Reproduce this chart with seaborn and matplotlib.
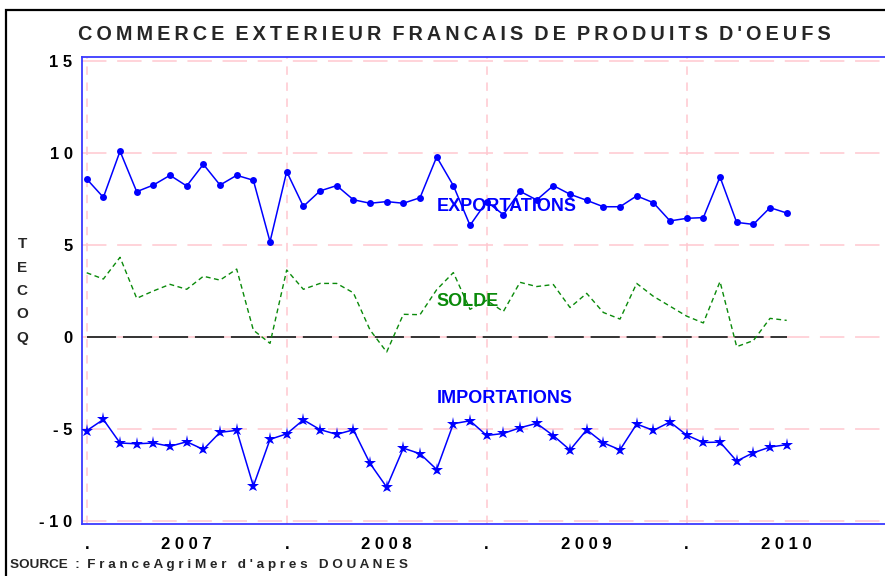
import numpy as np
import pandas as pd
import matplotlib
matplotlib.use("Agg")
import matplotlib.pyplot as plt
import seaborn as sns
from matplotlib.patches import Rectangle
from matplotlib.ticker import MultipleLocator

###-------DATA------###
# one value per month, Jan 2007 -> Jul 2010 (thousand tonnes, TEC)
months = list(range(43))
exports = [8.58, 7.58, 10.09, 7.89, 8.25, 8.78, 8.20, 9.38, 8.25, 8.78, 8.51, 5.17,
           8.98, 7.09, 7.93, 8.22, 7.45, 7.26, 7.35, 7.26, 7.56, 9.78, 8.22, 6.06,
           7.35, 6.64, 7.91, 7.44, 8.22, 7.75, 7.42, 7.07, 7.07, 7.66, 7.29, 6.30,
           6.44, 6.48, 8.69, 6.22, 6.11, 7.02, 6.73]
imports = [-5.11, -4.50, -5.78, -5.82, -5.78, -5.96, -5.71, -6.13, -5.20, -5.09, -8.12, -5.58,
           -5.28, -4.52, -5.05, -5.31, -5.06, -6.89, -8.18, -6.06, -6.36, -7.22, -4.73, -4.57,
           -5.37, -5.26, -4.95, -4.71, -5.38, -6.16, -5.06, -5.77, -6.15, -4.75, -5.09, -4.64,
           -5.35, -5.75, -5.73, -6.76, -6.31, -6.00, -5.87]
solde = [3.48, 3.14, 4.32, 2.09, 2.49, 2.85, 2.58, 3.29, 3.08, 3.68, 0.36, -0.36,
         3.63, 2.58, 2.90, 2.90, 2.39, 0.37, -0.83, 1.22, 1.20, 2.56, 3.49, 1.49,
         1.98, 1.37, 2.96, 2.73, 2.84, 1.59, 2.36, 1.32, 0.96, 2.90, 2.20, 1.66,
         1.12, 0.75, 3.00, -0.54, -0.21, 1.00, 0.89]

xtick_pos = [0, 6, 12, 18, 24, 30, 36, 42, 48]
xtick_labels = [".", "2007", ".", "2008", ".", "2009", ".", "2010", "."]
xgrid_pos = [0, 12, 24, 36, 48]
ytick_pos = [-10, -5, 0, 5, 10, 15]
ytick_labels = ["-10", "-5", "0", "5", "10", "15"]

title = "COMMERCE EXTERIEUR FRANCAIS DE PRODUITS D'OEUFS"
ylabel = "TECOQ"
source = "FranceAgriMer d'apres DOUANES"


def spaced(s, gap=" ", word_gap="   "):
    # SAS style letter spacing
    return word_gap.join(gap.join(w) for w in s.split(" "))


###-------PLOT------###
sns.set_style("white")
plt.rcParams["font.family"] = ["Liberation Sans", "DejaVu Sans"]
plt.rcParams["font.weight"] = "bold"

axis_blue = "#3a3aff"
pink = "#ffc8d0"

fig = plt.figure(figsize=(8.85, 5.76), dpi=100)
ax = fig.add_axes([82.3 / 885, 51.7 / 576, 817.7 / 885, 467.6 / 576])

# grid
ax.set_yticks(ytick_pos)
ax.set_yticklabels([spaced(t) for t in ytick_labels])
ax.grid(axis="y", color=pink, lw=1.1, ls=(0, (16, 7)), zorder=0)
for gx in xgrid_pos:
    ax.axvline(gx, color=pink, lw=1.1, ls=(0, (5.5, 5)), zorder=0)

ax.hlines(0, months[0], months[-1], colors="#333333", linestyles=(0, (15, 3.5)), lw=1.4, zorder=2)

sns.lineplot(x=months, y=solde, color="#0a8a0a", lw=1.0, linestyle=(0, (3.5, 2.5)), ax=ax, zorder=3)
sns.lineplot(x=months, y=exports, color="#0000ff", lw=1.1, marker="o", markersize=5,
             markeredgewidth=0, ax=ax, zorder=4)
sns.lineplot(x=months, y=imports, color="#0000ff", lw=1.1, marker="*", markersize=9.5,
             markeredgewidth=0, ax=ax, zorder=4)

ax.text(21.0, 7.1, "EXPORTATIONS", color="#0000ff", fontsize=13, ha="left", va="center", zorder=5)
ax.text(21.0, 1.9, "SOLDE", color="#0a8a0a", fontsize=13, ha="left", va="center", zorder=5)
ax.text(21.0, -3.35, "IMPORTATIONS", color="#0000ff", fontsize=13, ha="left", va="center", zorder=5)

ax.set_xlim(-0.264, 48.8)
ax.set_ylim(-10.2, 15.23)
ax.set_xticks(xtick_pos)
ax.set_xticklabels([spaced(t) for t in xtick_labels])
ax.yaxis.set_minor_locator(MultipleLocator(1))

for side in ["left", "top", "bottom"]:
    ax.spines[side].set_color(axis_blue)
    ax.spines[side].set_linewidth(1.3)
ax.spines["right"].set_visible(False)

ax.tick_params(axis="both", which="major", direction="out", length=5, width=1,
               color=axis_blue, labelsize=12, labelcolor="black")
ax.tick_params(axis="x", pad=4)
ax.tick_params(axis="y", pad=2)
ax.tick_params(axis="y", which="minor", direction="out", length=3, width=1, color=axis_blue)
ax.set_xlabel("")
ax.set_ylabel("")

fig.text(454 / 885, 1 - 35 / 576, spaced(title, gap="\u2009", word_gap="  "), fontsize=14.3,
         ha="center", va="center")
fig.text(22 / 885, 1 - 291 / 576, "\n".join(ylabel), fontsize=11, ha="center", va="center",
         linespacing=1.85)
fig.text(10 / 885, 1 - 565 / 576, "SOURCE  :  " + spaced(source), fontsize=9.7, ha="left", va="center")

# outer frame
fig.patches.append(Rectangle((6 / 885, -0.2), 1.2, 1.2 - 10 / 576,
                             transform=fig.transFigure, fill=False, ec="black", lw=1.6))

fig.savefig("out.png", dpi=100)
